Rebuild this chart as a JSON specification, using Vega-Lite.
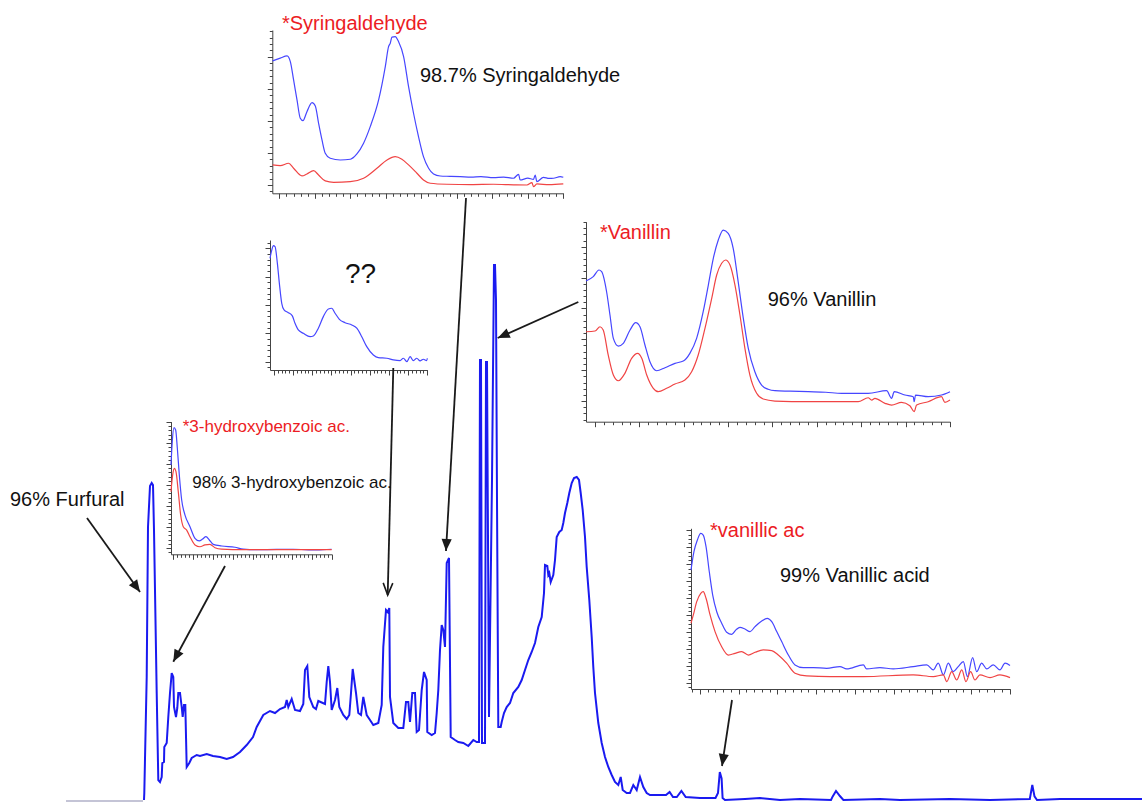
{
"$schema": "https://vega.github.io/schema/vega-lite/v6.json",
"width": 1142, "height": 803, "padding": 0, "autosize": {"type": "none"},
"background": "white",
"config": {"view": {"stroke": null}, "axis": {"labels": false, "title": null, "grid": false, "domainColor": "#444", "tickColor": "#444", "domainWidth": 1, "tickWidth": 1}, "text": {"font": "Liberation Sans"}},
"resolve": {"scale": {"x": "independent", "y": "independent"}, "axis": {"x": "independent", "y": "independent"}},
"datasets": {
"chrom": [
{"t":66,"s":-1,"seg":"pre-injection"},{"t":143,"s":-1,"seg":"pre-injection"},
{"t":144,"s":0,"seg":"chromatogram"},{"t":144.3,"s":7,"seg":"chromatogram"},{"t":146.7,"s":123,"seg":"chromatogram"},{"t":148,"s":273,"seg":"chromatogram"},{"t":150,"s":314,"seg":"chromatogram"},{"t":151.7,"s":317,"seg":"chromatogram"},{"t":153,"s":315,"seg":"chromatogram"},{"t":154,"s":270,"seg":"chromatogram"},{"t":156.7,"s":107,"seg":"chromatogram"},{"t":158.3,"s":20,"seg":"chromatogram"},{"t":160,"s":18,"seg":"chromatogram"},{"t":161.7,"s":23,"seg":"chromatogram"},{"t":162.3,"s":37,"seg":"chromatogram"},{"t":164,"s":38,"seg":"chromatogram"},{"t":164.3,"s":53,"seg":"chromatogram"},{"t":166.7,"s":57,"seg":"chromatogram"},{"t":168.3,"s":83,"seg":"chromatogram"},{"t":170,"s":107,"seg":"chromatogram"},{"t":171.7,"s":127,"seg":"chromatogram"},{"t":173.3,"s":123,"seg":"chromatogram"},{"t":174,"s":93,"seg":"chromatogram"},{"t":176,"s":83,"seg":"chromatogram"},{"t":177.3,"s":92,"seg":"chromatogram"},{"t":178.3,"s":107,"seg":"chromatogram"},{"t":180,"s":107,"seg":"chromatogram"},{"t":181.7,"s":93,"seg":"chromatogram"},{"t":182.7,"s":83,"seg":"chromatogram"},{"t":184,"s":95,"seg":"chromatogram"},{"t":185.3,"s":95,"seg":"chromatogram"},{"t":186.7,"s":33,"seg":"chromatogram"},{"t":189.3,"s":37,"seg":"chromatogram"},{"t":191.7,"s":42,"seg":"chromatogram"},{"t":196.7,"s":45,"seg":"chromatogram"},{"t":200,"s":44,"seg":"chromatogram"},{"t":206.7,"s":46,"seg":"chromatogram"},{"t":213,"s":44,"seg":"chromatogram"},{"t":220,"s":43,"seg":"chromatogram"},{"t":226.7,"s":41,"seg":"chromatogram"},{"t":233,"s":43,"seg":"chromatogram"},{"t":240,"s":48,"seg":"chromatogram"},{"t":246.7,"s":55,"seg":"chromatogram"},{"t":253,"s":63,"seg":"chromatogram"},{"t":256.7,"s":73,"seg":"chromatogram"},{"t":263.3,"s":85,"seg":"chromatogram"},{"t":270,"s":89,"seg":"chromatogram"},{"t":275,"s":87,"seg":"chromatogram"},{"t":280,"s":91,"seg":"chromatogram"},{"t":285,"s":93,"seg":"chromatogram"},{"t":286.7,"s":100,"seg":"chromatogram"},{"t":288.3,"s":93,"seg":"chromatogram"},{"t":291.7,"s":101,"seg":"chromatogram"},{"t":295,"s":90,"seg":"chromatogram"},{"t":300,"s":89,"seg":"chromatogram"},{"t":303.3,"s":96,"seg":"chromatogram"},{"t":305,"s":130,"seg":"chromatogram"},{"t":307.3,"s":134,"seg":"chromatogram"},{"t":309.3,"s":103,"seg":"chromatogram"},{"t":313.3,"s":93,"seg":"chromatogram"},{"t":316,"s":91,"seg":"chromatogram"},{"t":318.3,"s":99,"seg":"chromatogram"},{"t":325,"s":96,"seg":"chromatogram"},{"t":326.7,"s":118,"seg":"chromatogram"},{"t":328.3,"s":134,"seg":"chromatogram"},{"t":330,"s":118,"seg":"chromatogram"},{"t":331.7,"s":90,"seg":"chromatogram"},{"t":335,"s":100,"seg":"chromatogram"},{"t":337.3,"s":112,"seg":"chromatogram"},{"t":339.3,"s":93,"seg":"chromatogram"},{"t":343.3,"s":85,"seg":"chromatogram"},{"t":346.7,"s":81,"seg":"chromatogram"},{"t":349.3,"s":85,"seg":"chromatogram"},{"t":351,"s":107,"seg":"chromatogram"},{"t":352.7,"s":131,"seg":"chromatogram"},{"t":356,"s":107,"seg":"chromatogram"},{"t":358.3,"s":87,"seg":"chromatogram"},{"t":361,"s":85,"seg":"chromatogram"},{"t":363.3,"s":103,"seg":"chromatogram"},{"t":366.7,"s":85,"seg":"chromatogram"},{"t":370,"s":80,"seg":"chromatogram"},{"t":373.3,"s":75,"seg":"chromatogram"},{"t":378.3,"s":77,"seg":"chromatogram"},{"t":381.7,"s":95,"seg":"chromatogram"},{"t":383.3,"s":153,"seg":"chromatogram"},{"t":386,"s":190,"seg":"chromatogram"},{"t":387.7,"s":188,"seg":"chromatogram"},{"t":389.3,"s":192,"seg":"chromatogram"},{"t":390,"s":103,"seg":"chromatogram"},{"t":393.3,"s":77,"seg":"chromatogram"},{"t":398.3,"s":72,"seg":"chromatogram"},{"t":403.3,"s":72,"seg":"chromatogram"},{"t":406,"s":98,"seg":"chromatogram"},{"t":408.3,"s":98,"seg":"chromatogram"},{"t":410,"s":78,"seg":"chromatogram"},{"t":412.3,"s":107,"seg":"chromatogram"},{"t":415,"s":107,"seg":"chromatogram"},{"t":416.7,"s":68,"seg":"chromatogram"},{"t":419,"s":70,"seg":"chromatogram"},{"t":421.7,"s":110,"seg":"chromatogram"},{"t":424,"s":128,"seg":"chromatogram"},{"t":426.7,"s":120,"seg":"chromatogram"},{"t":427.3,"s":68,"seg":"chromatogram"},{"t":431.7,"s":65,"seg":"chromatogram"},{"t":435,"s":67,"seg":"chromatogram"},{"t":436.7,"s":87,"seg":"chromatogram"},{"t":438.3,"s":110,"seg":"chromatogram"},{"t":440,"s":150,"seg":"chromatogram"},{"t":441.7,"s":175,"seg":"chromatogram"},{"t":443.3,"s":170,"seg":"chromatogram"},{"t":445,"s":153,"seg":"chromatogram"},{"t":446.7,"s":237,"seg":"chromatogram"},{"t":449,"s":242,"seg":"chromatogram"},{"t":450.7,"s":63,"seg":"chromatogram"},{"t":455,"s":60,"seg":"chromatogram"},{"t":458.3,"s":58,"seg":"chromatogram"},{"t":463.3,"s":57,"seg":"chromatogram"},{"t":468.3,"s":54,"seg":"chromatogram"},{"t":473.3,"s":60,"seg":"chromatogram"},{"t":476.7,"s":58,"seg":"chromatogram"},{"t":479,"s":58,"seg":"chromatogram"},{"t":480,"s":440,"seg":"chromatogram"},{"t":481,"s":440,"seg":"chromatogram"},{"t":482,"s":57,"seg":"chromatogram"},{"t":485,"s":57,"seg":"chromatogram"},{"t":486,"s":438,"seg":"chromatogram"},{"t":487,"s":438,"seg":"chromatogram"},{"t":489,"s":83,"seg":"chromatogram"},{"t":492,"s":320,"seg":"chromatogram"},{"t":494,"s":535,"seg":"chromatogram"},{"t":495,"s":535,"seg":"chromatogram"},{"t":496,"s":500,"seg":"chromatogram"},{"t":497,"s":300,"seg":"chromatogram"},{"t":498.3,"s":73,"seg":"chromatogram"},{"t":500.7,"s":73,"seg":"chromatogram"},{"t":501.7,"s":78,"seg":"chromatogram"},{"t":504,"s":87,"seg":"chromatogram"},{"t":506.7,"s":93,"seg":"chromatogram"},{"t":510,"s":97,"seg":"chromatogram"},{"t":513.3,"s":107,"seg":"chromatogram"},{"t":518.3,"s":113,"seg":"chromatogram"},{"t":521.7,"s":120,"seg":"chromatogram"},{"t":525,"s":130,"seg":"chromatogram"},{"t":528.3,"s":140,"seg":"chromatogram"},{"t":531.7,"s":148,"seg":"chromatogram"},{"t":535,"s":157,"seg":"chromatogram"},{"t":538.3,"s":173,"seg":"chromatogram"},{"t":541.7,"s":183,"seg":"chromatogram"},{"t":544,"s":207,"seg":"chromatogram"},{"t":545,"s":235,"seg":"chromatogram"},{"t":547.3,"s":234,"seg":"chromatogram"},{"t":548.3,"s":225,"seg":"chromatogram"},{"t":549.3,"s":227,"seg":"chromatogram"},{"t":550.7,"s":218,"seg":"chromatogram"},{"t":553.3,"s":225,"seg":"chromatogram"},{"t":555,"s":240,"seg":"chromatogram"},{"t":556.7,"s":263,"seg":"chromatogram"},{"t":559.3,"s":268,"seg":"chromatogram"},{"t":561.7,"s":270,"seg":"chromatogram"},{"t":563.3,"s":277,"seg":"chromatogram"},{"t":565,"s":287,"seg":"chromatogram"},{"t":567.3,"s":297,"seg":"chromatogram"},{"t":569.3,"s":307,"seg":"chromatogram"},{"t":571.7,"s":317,"seg":"chromatogram"},{"t":574,"s":322,"seg":"chromatogram"},{"t":576.7,"s":323,"seg":"chromatogram"},{"t":579,"s":320,"seg":"chromatogram"},{"t":580.7,"s":307,"seg":"chromatogram"},{"t":582.7,"s":290,"seg":"chromatogram"},{"t":585,"s":263,"seg":"chromatogram"},{"t":586.7,"s":233,"seg":"chromatogram"},{"t":589.3,"s":200,"seg":"chromatogram"},{"t":591.7,"s":163,"seg":"chromatogram"},{"t":593.3,"s":133,"seg":"chromatogram"},{"t":595,"s":107,"seg":"chromatogram"},{"t":598.3,"s":77,"seg":"chromatogram"},{"t":601.7,"s":57,"seg":"chromatogram"},{"t":605,"s":43,"seg":"chromatogram"},{"t":608.3,"s":33,"seg":"chromatogram"},{"t":611.7,"s":25,"seg":"chromatogram"},{"t":615,"s":18,"seg":"chromatogram"},{"t":618.3,"s":15,"seg":"chromatogram"},{"t":620.7,"s":23,"seg":"chromatogram"},{"t":622.7,"s":10,"seg":"chromatogram"},{"t":626.7,"s":7,"seg":"chromatogram"},{"t":630,"s":7,"seg":"chromatogram"},{"t":633.3,"s":15,"seg":"chromatogram"},{"t":636.7,"s":10,"seg":"chromatogram"},{"t":640,"s":23,"seg":"chromatogram"},{"t":643.3,"s":13,"seg":"chromatogram"},{"t":646.7,"s":7,"seg":"chromatogram"},{"t":650,"s":5,"seg":"chromatogram"},{"t":666,"s":5,"seg":"chromatogram"},{"t":669.6,"s":8,"seg":"chromatogram"},{"t":673,"s":3,"seg":"chromatogram"},{"t":676.8,"s":3,"seg":"chromatogram"},{"t":681.4,"s":9,"seg":"chromatogram"},{"t":685.7,"s":3,"seg":"chromatogram"},{"t":700,"s":2,"seg":"chromatogram"},{"t":709,"s":2,"seg":"chromatogram"},{"t":715.5,"s":2,"seg":"chromatogram"},{"t":718,"s":7,"seg":"chromatogram"},{"t":719.8,"s":28,"seg":"chromatogram"},{"t":721.6,"s":21.5,"seg":"chromatogram"},{"t":722.6,"s":2,"seg":"chromatogram"},{"t":725,"s":0,"seg":"chromatogram"},{"t":745,"s":1,"seg":"chromatogram"},{"t":760,"s":2,"seg":"chromatogram"},{"t":780,"s":0,"seg":"chromatogram"},{"t":800,"s":1,"seg":"chromatogram"},{"t":831,"s":0,"seg":"chromatogram"},{"t":832.7,"s":3.6,"seg":"chromatogram"},{"t":836,"s":9,"seg":"chromatogram"},{"t":839.9,"s":4,"seg":"chromatogram"},{"t":843.4,"s":0,"seg":"chromatogram"},{"t":880,"s":1,"seg":"chromatogram"},{"t":900,"s":0,"seg":"chromatogram"},{"t":950,"s":1,"seg":"chromatogram"},{"t":990,"s":0,"seg":"chromatogram"},{"t":1029.8,"s":1,"seg":"chromatogram"},{"t":1032.3,"s":15,"seg":"chromatogram"},{"t":1034.5,"s":3.6,"seg":"chromatogram"},{"t":1037,"s":0,"seg":"chromatogram"},{"t":1060,"s":1,"seg":"chromatogram"},{"t":1100,"s":1,"seg":"chromatogram"},{"t":1142,"s":1,"seg":"chromatogram"}
],
"arrows": [
{"target":"Furfural","t":87,"s":282,"t2":140,"s2":208,"head":"filled"},
{"target":"3-hydroxybenzoic acid","t":225,"s":234,"t2":173.3,"s2":138.3,"head":"filled"},
{"target":"unknown","t":393.3,"s":432,"t2":387.7,"s2":205,"head":"open"},
{"target":"Syringaldehyde","t":466,"s":602,"t2":446,"s2":249,"head":"filled"},
{"target":"Vanillin","t":578.3,"s":498,"t2":497.7,"s2":462,"head":"filled"},
{"target":"Vanillic acid","t":732,"s":100,"t2":722,"s2":34,"head":"filled"}
],
"syr": [
{"nm":195.2,"a":193.8,"tr":"sample"},{"nm":200.6,"a":198,"tr":"sample"},{"nm":205.4,"a":201.6,"tr":"sample"},{"nm":207.7,"a":192.7,"tr":"sample"},{"nm":210,"a":164,"tr":"sample"},{"nm":212.4,"a":132.8,"tr":"sample"},{"nm":214.7,"a":104.2,"tr":"sample"},{"nm":216.6,"a":100.5,"tr":"sample"},{"nm":219.4,"a":114.5,"tr":"sample"},{"nm":223,"a":128.6,"tr":"sample"},{"nm":225.3,"a":123.4,"tr":"sample"},{"nm":227.6,"a":96.4,"tr":"sample"},{"nm":230,"a":70.3,"tr":"sample"},{"nm":232.3,"a":49.5,"tr":"sample"},{"nm":235.8,"a":41.7,"tr":"sample"},{"nm":242.9,"a":39,"tr":"sample"},{"nm":250,"a":40.2,"tr":"sample"},{"nm":254.6,"a":48.4,"tr":"sample"},{"nm":259.3,"a":65.2,"tr":"sample"},{"nm":264,"a":91.1,"tr":"sample"},{"nm":269.9,"a":132.8,"tr":"sample"},{"nm":274.6,"a":184.8,"tr":"sample"},{"nm":276.9,"a":216,"tr":"sample"},{"nm":278.1,"a":221.4,"tr":"sample"},{"nm":279.3,"a":230.8,"tr":"sample"},{"nm":281.6,"a":231.7,"tr":"sample"},{"nm":283.9,"a":223.9,"tr":"sample"},{"nm":287.5,"a":200.5,"tr":"sample"},{"nm":291,"a":153.6,"tr":"sample"},{"nm":294.5,"a":112,"tr":"sample"},{"nm":298,"a":75.5,"tr":"sample"},{"nm":301.5,"a":44.2,"tr":"sample"},{"nm":305.1,"a":26.1,"tr":"sample"},{"nm":308.6,"a":17.2,"tr":"sample"},{"nm":313.3,"a":14,"tr":"sample"},{"nm":320,"a":13.5,"tr":"sample"},{"nm":327.4,"a":13,"tr":"sample"},{"nm":335,"a":12.2,"tr":"sample"},{"nm":342,"a":13.1,"tr":"sample"},{"nm":350.8,"a":11.4,"tr":"sample"},{"nm":358,"a":12.4,"tr":"sample"},{"nm":364.9,"a":10.5,"tr":"sample"},{"nm":368.5,"a":16.7,"tr":"sample"},{"nm":369.6,"a":7.8,"tr":"sample"},{"nm":375,"a":10.6,"tr":"sample"},{"nm":379,"a":8.9,"tr":"sample"},{"nm":380.2,"a":15.6,"tr":"sample"},{"nm":381.4,"a":5.2,"tr":"sample"},{"nm":386,"a":12,"tr":"sample"},{"nm":390,"a":10.2,"tr":"sample"},{"nm":393.1,"a":10.5,"tr":"sample"},{"nm":397.8,"a":13,"tr":"sample"},{"nm":400,"a":12,"tr":"sample"},
{"nm":195.2,"a":31.3,"tr":"library"},{"nm":200.6,"a":30.2,"tr":"library"},{"nm":206.5,"a":33.9,"tr":"library"},{"nm":210,"a":26.1,"tr":"library"},{"nm":215.9,"a":14.1,"tr":"library"},{"nm":219.4,"a":17.2,"tr":"library"},{"nm":224.1,"a":22.3,"tr":"library"},{"nm":227.6,"a":15.6,"tr":"library"},{"nm":232.3,"a":6.3,"tr":"library"},{"nm":238.2,"a":4.2,"tr":"library"},{"nm":249.9,"a":5.2,"tr":"library"},{"nm":259.3,"a":10.5,"tr":"library"},{"nm":268.7,"a":26.1,"tr":"library"},{"nm":275.8,"a":39,"tr":"library"},{"nm":281.6,"a":44.2,"tr":"library"},{"nm":286.3,"a":40.2,"tr":"library"},{"nm":291,"a":31.3,"tr":"library"},{"nm":296.9,"a":18.3,"tr":"library"},{"nm":301.5,"a":7.8,"tr":"library"},{"nm":306.3,"a":2.7,"tr":"library"},{"nm":318,"a":1.1,"tr":"library"},{"nm":335,"a":0.6,"tr":"library"},{"nm":350.8,"a":1.1,"tr":"library"},{"nm":365,"a":0.3,"tr":"library"},{"nm":374.4,"a":0,"tr":"library"},{"nm":377.9,"a":3.6,"tr":"library"},{"nm":379,"a":-2.7,"tr":"library"},{"nm":381.4,"a":1.6,"tr":"library"},{"nm":390,"a":0.5,"tr":"library"},{"nm":400,"a":1.6,"tr":"library"}
],
"unk": [
{"nm":195,"a":73,"tr":"sample"},{"nm":197.3,"a":78.8,"tr":"sample"},{"nm":199.3,"a":81.9,"tr":"sample"},{"nm":201.6,"a":81.2,"tr":"sample"},{"nm":204.6,"a":69.4,"tr":"sample"},{"nm":207.2,"a":55.3,"tr":"sample"},{"nm":210.3,"a":41.2,"tr":"sample"},{"nm":213.3,"a":36.5,"tr":"sample"},{"nm":218.9,"a":34.6,"tr":"sample"},{"nm":224.1,"a":32.3,"tr":"sample"},{"nm":227.6,"a":27.1,"tr":"sample"},{"nm":231.9,"a":22.4,"tr":"sample"},{"nm":238.5,"a":20,"tr":"sample"},{"nm":247.2,"a":17.6,"tr":"sample"},{"nm":251.5,"a":18.1,"tr":"sample"},{"nm":258,"a":23.6,"tr":"sample"},{"nm":264.5,"a":31.8,"tr":"sample"},{"nm":271.1,"a":37.2,"tr":"sample"},{"nm":275.5,"a":37.7,"tr":"sample"},{"nm":279.8,"a":34.2,"tr":"sample"},{"nm":285.4,"a":29.9,"tr":"sample"},{"nm":292.8,"a":27.5,"tr":"sample"},{"nm":301.6,"a":25.9,"tr":"sample"},{"nm":308.1,"a":23.6,"tr":"sample"},{"nm":314.6,"a":17.6,"tr":"sample"},{"nm":321.1,"a":10.6,"tr":"sample"},{"nm":329.7,"a":4.7,"tr":"sample"},{"nm":336.2,"a":2.8,"tr":"sample"},{"nm":347.2,"a":2.4,"tr":"sample"},{"nm":355.8,"a":1.2,"tr":"sample"},{"nm":364.5,"a":0.7,"tr":"sample"},{"nm":368.8,"a":2.4,"tr":"sample"},{"nm":373.3,"a":0,"tr":"sample"},{"nm":377.6,"a":3.5,"tr":"sample"},{"nm":381.9,"a":0.7,"tr":"sample"},{"nm":386.3,"a":2.4,"tr":"sample"},{"nm":390.6,"a":0.5,"tr":"sample"},{"nm":394.9,"a":1.7,"tr":"sample"},{"nm":399.3,"a":0.7,"tr":"sample"},{"nm":400,"a":2.4,"tr":"sample"}
],
"van": [
{"nm":195,"a":194.5,"tr":"sample"},{"nm":199.1,"a":201.5,"tr":"sample"},{"nm":202.3,"a":212.3,"tr":"sample"},{"nm":203.8,"a":209.6,"tr":"sample"},{"nm":206.6,"a":177.1,"tr":"sample"},{"nm":208.5,"a":139.4,"tr":"sample"},{"nm":210.4,"a":101.6,"tr":"sample"},{"nm":213.2,"a":89.1,"tr":"sample"},{"nm":216,"a":93.5,"tr":"sample"},{"nm":219.8,"a":115.1,"tr":"sample"},{"nm":223,"a":126.9,"tr":"sample"},{"nm":225.4,"a":120.4,"tr":"sample"},{"nm":228.2,"a":90.8,"tr":"sample"},{"nm":231,"a":63.7,"tr":"sample"},{"nm":234.8,"a":49.1,"tr":"sample"},{"nm":239.5,"a":54,"tr":"sample"},{"nm":245.1,"a":61.1,"tr":"sample"},{"nm":249.8,"a":64.8,"tr":"sample"},{"nm":253.5,"a":77.3,"tr":"sample"},{"nm":257.3,"a":101.6,"tr":"sample"},{"nm":261,"a":144.7,"tr":"sample"},{"nm":263.9,"a":188,"tr":"sample"},{"nm":266.7,"a":231.3,"tr":"sample"},{"nm":269.5,"a":260.9,"tr":"sample"},{"nm":272.3,"a":277.1,"tr":"sample"},{"nm":275.1,"a":271.8,"tr":"sample"},{"nm":277.9,"a":247.5,"tr":"sample"},{"nm":280.7,"a":193.4,"tr":"sample"},{"nm":283.6,"a":134,"tr":"sample"},{"nm":286.4,"a":85.4,"tr":"sample"},{"nm":290.1,"a":47.5,"tr":"sample"},{"nm":293.9,"a":25.9,"tr":"sample"},{"nm":297.6,"a":19,"tr":"sample"},{"nm":301.4,"a":16.7,"tr":"sample"},{"nm":310,"a":16,"tr":"sample"},{"nm":320.2,"a":15.1,"tr":"sample"},{"nm":330,"a":14.2,"tr":"sample"},{"nm":339,"a":12.5,"tr":"sample"},{"nm":353.9,"a":12.5,"tr":"sample"},{"nm":364.3,"a":16.7,"tr":"sample"},{"nm":367.1,"a":4.4,"tr":"sample"},{"nm":368.6,"a":15.1,"tr":"sample"},{"nm":374.6,"a":9.7,"tr":"sample"},{"nm":379.3,"a":7,"tr":"sample"},{"nm":379.8,"a":-1.1,"tr":"sample"},{"nm":380.6,"a":9.7,"tr":"sample"},{"nm":387.7,"a":7,"tr":"sample"},{"nm":395.2,"a":9.7,"tr":"sample"},{"nm":400,"a":15.1,"tr":"sample"},
{"nm":195,"a":112.3,"tr":"library"},{"nm":200.1,"a":113.5,"tr":"library"},{"nm":202.9,"a":120.4,"tr":"library"},{"nm":204.7,"a":115.1,"tr":"library"},{"nm":207.5,"a":74.6,"tr":"library"},{"nm":210.4,"a":42.1,"tr":"library"},{"nm":213.2,"a":32.9,"tr":"library"},{"nm":216.9,"a":44.9,"tr":"library"},{"nm":220.7,"a":69.2,"tr":"library"},{"nm":224.1,"a":77.3,"tr":"library"},{"nm":226.4,"a":69.2,"tr":"library"},{"nm":229.2,"a":42.1,"tr":"library"},{"nm":232.9,"a":20.6,"tr":"library"},{"nm":235.7,"a":15.1,"tr":"library"},{"nm":240.4,"a":20.6,"tr":"library"},{"nm":245.1,"a":27.6,"tr":"library"},{"nm":250.7,"a":34,"tr":"library"},{"nm":254.5,"a":47.5,"tr":"library"},{"nm":258.2,"a":74.6,"tr":"library"},{"nm":262,"a":117.8,"tr":"library"},{"nm":265.8,"a":166.5,"tr":"library"},{"nm":268.6,"a":204.2,"tr":"library"},{"nm":271.4,"a":223.2,"tr":"library"},{"nm":273.6,"a":228.5,"tr":"library"},{"nm":276.1,"a":220.4,"tr":"library"},{"nm":278.9,"a":188,"tr":"library"},{"nm":281.7,"a":139.4,"tr":"library"},{"nm":284.5,"a":85.4,"tr":"library"},{"nm":287.3,"a":42.1,"tr":"library"},{"nm":291.1,"a":12.5,"tr":"library"},{"nm":294.8,"a":3.2,"tr":"library"},{"nm":301.4,"a":0,"tr":"library"},{"nm":320.2,"a":-1.1,"tr":"library"},{"nm":348.3,"a":-1.1,"tr":"library"},{"nm":353.9,"a":5.3,"tr":"library"},{"nm":355.9,"a":1.6,"tr":"library"},{"nm":357.7,"a":4.4,"tr":"library"},{"nm":363.4,"a":-3.7,"tr":"library"},{"nm":367.1,"a":-6.5,"tr":"library"},{"nm":372.7,"a":-2.1,"tr":"library"},{"nm":377.4,"a":-7.6,"tr":"library"},{"nm":379.8,"a":-17.3,"tr":"library"},{"nm":381.2,"a":-6.5,"tr":"library"},{"nm":387.7,"a":-1.1,"tr":"library"},{"nm":395.2,"a":7,"tr":"library"},{"nm":397.1,"a":-2.1,"tr":"library"},{"nm":400,"a":1.6,"tr":"library"}
],
"hba": [
{"nm":197,"a":79,"tr":"sample"},{"nm":198.6,"a":101.2,"tr":"sample"},{"nm":200.8,"a":114.6,"tr":"sample"},{"nm":202.9,"a":112.4,"tr":"sample"},{"nm":205,"a":95,"tr":"sample"},{"nm":207.5,"a":69.5,"tr":"sample"},{"nm":210.5,"a":45.7,"tr":"sample"},{"nm":214.7,"a":31.4,"tr":"sample"},{"nm":221,"a":20.3,"tr":"sample"},{"nm":227.3,"a":9.2,"tr":"sample"},{"nm":232.7,"a":6.7,"tr":"sample"},{"nm":237,"a":8.6,"tr":"sample"},{"nm":241.2,"a":10.8,"tr":"sample"},{"nm":245.4,"a":7.6,"tr":"sample"},{"nm":250.4,"a":3.5,"tr":"sample"},{"nm":261,"a":1.9,"tr":"sample"},{"nm":277.8,"a":0.7,"tr":"sample"},{"nm":288.3,"a":-1,"tr":"sample"},{"nm":309.4,"a":-1.6,"tr":"sample"},{"nm":351.4,"a":-1.2,"tr":"sample"},{"nm":381,"a":-1.9,"tr":"sample"},{"nm":399.9,"a":-1.2,"tr":"sample"},
{"nm":197,"a":53.6,"tr":"library"},{"nm":199.1,"a":69.5,"tr":"library"},{"nm":201.2,"a":75.9,"tr":"library"},{"nm":203.3,"a":72.7,"tr":"library"},{"nm":206.2,"a":53.6,"tr":"library"},{"nm":209.2,"a":31.4,"tr":"library"},{"nm":212.5,"a":20.3,"tr":"library"},{"nm":216.8,"a":17.1,"tr":"library"},{"nm":221,"a":10.8,"tr":"library"},{"nm":227.3,"a":2.9,"tr":"library"},{"nm":233.6,"a":1.2,"tr":"library"},{"nm":239.9,"a":2.9,"tr":"library"},{"nm":246.2,"a":3.5,"tr":"library"},{"nm":252.6,"a":0.3,"tr":"library"},{"nm":261,"a":-1,"tr":"library"},{"nm":288.3,"a":-1.6,"tr":"library"},{"nm":399.9,"a":-1.6,"tr":"library"}
],
"vac": [
{"nm":194.2,"a":66.6,"tr":"sample"},{"nm":196.1,"a":77.4,"tr":"sample"},{"nm":198.3,"a":84.3,"tr":"sample"},{"nm":200.5,"a":88.2,"tr":"sample"},{"nm":202.1,"a":87.2,"tr":"sample"},{"nm":203.9,"a":80.4,"tr":"sample"},{"nm":206,"a":65.6,"tr":"sample"},{"nm":208.2,"a":51.9,"tr":"sample"},{"nm":210.8,"a":42.1,"tr":"sample"},{"nm":214,"a":35.3,"tr":"sample"},{"nm":217.2,"a":30,"tr":"sample"},{"nm":220.5,"a":28.8,"tr":"sample"},{"nm":223.2,"a":31.4,"tr":"sample"},{"nm":225.8,"a":32.9,"tr":"sample"},{"nm":229,"a":31.9,"tr":"sample"},{"nm":232.3,"a":30.4,"tr":"sample"},{"nm":235.5,"a":33.3,"tr":"sample"},{"nm":239.8,"a":36.6,"tr":"sample"},{"nm":243.4,"a":38.2,"tr":"sample"},{"nm":246.3,"a":36.2,"tr":"sample"},{"nm":249.5,"a":30.4,"tr":"sample"},{"nm":252.7,"a":24.5,"tr":"sample"},{"nm":257,"a":16.6,"tr":"sample"},{"nm":261.3,"a":10.8,"tr":"sample"},{"nm":266.6,"a":9.2,"tr":"sample"},{"nm":273.1,"a":9.2,"tr":"sample"},{"nm":281.7,"a":8.8,"tr":"sample"},{"nm":290.3,"a":9.8,"tr":"sample"},{"nm":294.6,"a":8.4,"tr":"sample"},{"nm":305.4,"a":10.8,"tr":"sample"},{"nm":307.5,"a":8.4,"tr":"sample"},{"nm":316.1,"a":9.2,"tr":"sample"},{"nm":324.7,"a":8.4,"tr":"sample"},{"nm":337.6,"a":9.8,"tr":"sample"},{"nm":346.3,"a":10.8,"tr":"sample"},{"nm":350.5,"a":7.8,"tr":"sample"},{"nm":353.7,"a":11.8,"tr":"sample"},{"nm":357,"a":4.9,"tr":"sample"},{"nm":360.2,"a":11.8,"tr":"sample"},{"nm":363.4,"a":6.8,"tr":"sample"},{"nm":366.6,"a":9.8,"tr":"sample"},{"nm":369.9,"a":12.7,"tr":"sample"},{"nm":372.5,"a":3.9,"tr":"sample"},{"nm":375.9,"a":15.1,"tr":"sample"},{"nm":378.5,"a":6.8,"tr":"sample"},{"nm":381.7,"a":11.8,"tr":"sample"},{"nm":385,"a":8.4,"tr":"sample"},{"nm":389.2,"a":10.8,"tr":"sample"},{"nm":393.5,"a":7.8,"tr":"sample"},{"nm":396.8,"a":11.8,"tr":"sample"},{"nm":400,"a":10.4,"tr":"sample"},
{"nm":194.2,"a":35.3,"tr":"library"},{"nm":195.7,"a":40.2,"tr":"library"},{"nm":197.9,"a":48,"tr":"library"},{"nm":200.5,"a":52.9,"tr":"library"},{"nm":202.1,"a":53.9,"tr":"library"},{"nm":203.9,"a":50,"tr":"library"},{"nm":206.5,"a":40.2,"tr":"library"},{"nm":209.7,"a":30.4,"tr":"library"},{"nm":214,"a":21.5,"tr":"library"},{"nm":218.3,"a":16.6,"tr":"library"},{"nm":222.6,"a":17.6,"tr":"library"},{"nm":226.9,"a":18.6,"tr":"library"},{"nm":231.2,"a":16.6,"tr":"library"},{"nm":235.5,"a":18.2,"tr":"library"},{"nm":240.8,"a":19.6,"tr":"library"},{"nm":246.3,"a":19.2,"tr":"library"},{"nm":250.5,"a":16.6,"tr":"library"},{"nm":255.9,"a":11.8,"tr":"library"},{"nm":261.3,"a":5.9,"tr":"library"},{"nm":268.8,"a":4.3,"tr":"library"},{"nm":283.9,"a":3.9,"tr":"library"},{"nm":305.4,"a":3.9,"tr":"library"},{"nm":337.6,"a":4.9,"tr":"library"},{"nm":350.5,"a":3.9,"tr":"library"},{"nm":357,"a":4.9,"tr":"library"},{"nm":359.2,"a":0.9,"tr":"library"},{"nm":362.4,"a":6.8,"tr":"library"},{"nm":365.6,"a":1.9,"tr":"library"},{"nm":368.9,"a":7.8,"tr":"library"},{"nm":371.6,"a":0.9,"tr":"library"},{"nm":374.6,"a":6.8,"tr":"library"},{"nm":377.4,"a":1.9,"tr":"library"},{"nm":380.6,"a":4.9,"tr":"library"},{"nm":387.1,"a":3.3,"tr":"library"},{"nm":393.5,"a":4.9,"tr":"library"},{"nm":400,"a":3.3,"tr":"library"}
]
},
"layer": [
{"data": {"name": "chrom"}, "mark": {"type": "line", "strokeWidth": 2},
 "encoding": {"x": {"field": "t", "type": "quantitative", "scale": {"domain": [0, 1142], "nice": false, "zero": false}, "axis": null},
  "y": {"field": "s", "type": "quantitative", "scale": {"domain": [-3, 800], "nice": false, "zero": false}, "axis": null},
  "color": {"field": "seg", "type": "nominal", "scale": {"domain": ["chromatogram", "pre-injection", "sample", "library"], "range": ["#1a1af0", "#c4c4d6", "#4646ff", "#f04444"]}, "legend": null}}},
{"data": {"name": "arrows"}, "mark": {"type": "rule", "strokeWidth": 1.8, "color": "#1a1a1a"},
 "encoding": {"x": {"field": "t", "type": "quantitative", "scale": {"domain": [0, 1142], "nice": false, "zero": false}, "axis": null},
  "y": {"field": "s", "type": "quantitative", "scale": {"domain": [-3, 800], "nice": false, "zero": false}, "axis": null},
  "x2": {"field": "t2"}, "y2": {"field": "s2"}}},
{"data": {"name": "arrows"}, "transform": [{"filter": "datum.head == 'filled'"}, {"calculate": "atan2(datum.t2 - datum.t, datum.s2 - datum.s) * 180 / PI", "as": "ang"}],
 "mark": {"type": "point", "shape": "M0,0L-0.85,2L0.85,2Z", "filled": true, "color": "#1a1a1a", "size": 144, "opacity": 1},
 "encoding": {"x": {"field": "t2", "type": "quantitative", "scale": {"domain": [0, 1142], "nice": false, "zero": false}, "axis": null},
  "y": {"field": "s2", "type": "quantitative", "scale": {"domain": [-3, 800], "nice": false, "zero": false}, "axis": null},
  "angle": {"field": "ang", "type": "quantitative", "scale": null}}},
{"data": {"name": "arrows"}, "transform": [{"filter": "datum.head == 'open'"}, {"calculate": "atan2(datum.t2 - datum.t, datum.s2 - datum.s) * 180 / PI", "as": "ang"}],
 "mark": {"type": "point", "shape": "M-0.8,2L0,0L0.8,2", "filled": false, "color": "#1a1a1a", "strokeWidth": 1.6, "size": 144, "opacity": 1},
 "encoding": {"x": {"field": "t2", "type": "quantitative", "scale": {"domain": [0, 1142], "nice": false, "zero": false}, "axis": null},
  "y": {"field": "s2", "type": "quantitative", "scale": {"domain": [-3, 800], "nice": false, "zero": false}, "axis": null},
  "angle": {"field": "ang", "type": "quantitative", "scale": null}}},

{"data": {"name": "syr"}, "mark": {"type": "line", "strokeWidth": 1.2, "interpolate": "monotone"},
 "encoding": {"x": {"field": "nm", "type": "quantitative", "scale": {"domain": [195, 400], "range": [272.3, 563.3], "nice": false, "zero": false}, "axis": {"orient": "bottom", "offset": -609.7, "values": [200,225,250,275,300,325,350,375,400], "tickSize": 5}},
  "y": {"field": "a", "type": "quantitative", "scale": {"domain": [-13, 242], "range": [193.3, 30], "nice": false, "zero": false}, "axis": {"orient": "left", "offset": -272.3, "values": [0,50,100,150,200], "tickSize": 5}},
  "color": {"field": "tr", "type": "nominal", "scale": {"domain": ["chromatogram", "pre-injection", "sample", "library"], "range": ["#1a1af0", "#c4c4d6", "#4646ff", "#f04444"]}, "legend": null}}},
{"data": {"name": "syr"}, "mark": {"type": "line", "opacity": 0},
 "encoding": {"x": {"field": "nm", "type": "quantitative", "scale": {"domain": [195, 400], "range": [272.3, 563.3], "nice": false, "zero": false}, "axis": {"orient": "bottom", "offset": -609.7, "domain": false, "tickSize": 3, "values": [200,205,210,215,220,225,230,235,240,245,250,255,260,265,270,275,280,285,290,295,300,305,310,315,320,325,330,335,340,345,350,355,360,365,370,375,380,385,390,395,400]}},
  "y": {"field": "a", "type": "quantitative", "scale": {"domain": [-13, 242], "range": [193.3, 30], "nice": false, "zero": false}, "axis": {"orient": "left", "offset": -272.3, "domain": false, "tickSize": 3, "values": [-10,0,10,20,30,40,50,60,70,80,90,100,110,120,130,140,150,160,170,180,190,200,210,220,230,240]}}}},

{"data": {"name": "unk"}, "mark": {"type": "line", "strokeWidth": 1.2, "interpolate": "monotone"},
 "encoding": {"x": {"field": "nm", "type": "quantitative", "scale": {"domain": [195, 400], "range": [270, 427.3], "nice": false, "zero": false}, "axis": {"orient": "bottom", "offset": -433, "values": [200,225,250,275,300,325,350,375,400], "tickSize": 5}},
  "y": {"field": "a", "type": "quantitative", "scale": {"domain": [-5.9, 85.9], "range": [370, 240], "nice": false, "zero": false}, "axis": {"orient": "left", "offset": -270, "values": [0,20,40,60,80], "tickSize": 5}},
  "color": {"field": "tr", "type": "nominal", "scale": {"domain": ["chromatogram", "pre-injection", "sample", "library"], "range": ["#1a1af0", "#c4c4d6", "#4646ff", "#f04444"]}, "legend": null}}},
{"data": {"name": "unk"}, "mark": {"type": "line", "opacity": 0},
 "encoding": {"x": {"field": "nm", "type": "quantitative", "scale": {"domain": [195, 400], "range": [270, 427.3], "nice": false, "zero": false}, "axis": {"orient": "bottom", "offset": -433, "domain": false, "tickSize": 3, "values": [200,205,210,215,220,225,230,235,240,245,250,255,260,265,270,275,280,285,290,295,300,305,310,315,320,325,330,335,340,345,350,355,360,365,370,375,380,385,390,395,400]}},
  "y": {"field": "a", "type": "quantitative", "scale": {"domain": [-5.9, 85.9], "range": [370, 240], "nice": false, "zero": false}, "axis": {"orient": "left", "offset": -270, "domain": false, "tickSize": 3, "values": [-4,0,4,8,12,16,20,24,28,32,36,40,44,48,52,56,60,64,68,72,76,80,84]}}}},

{"data": {"name": "van"}, "mark": {"type": "line", "strokeWidth": 1.2, "interpolate": "monotone"},
 "encoding": {"x": {"field": "nm", "type": "quantitative", "scale": {"domain": [195, 400], "range": [586, 950], "nice": false, "zero": false}, "axis": {"orient": "bottom", "offset": -381.3, "values": [200,225,250,275,300,325,350,375,400], "tickSize": 5}},
  "y": {"field": "a", "type": "quantitative", "scale": {"domain": [-33.5, 290.6], "range": [421.7, 221.7], "nice": false, "zero": false}, "axis": {"orient": "left", "offset": -586, "values": [0,50,100,150,200,250], "tickSize": 5}},
  "color": {"field": "tr", "type": "nominal", "scale": {"domain": ["chromatogram", "pre-injection", "sample", "library"], "range": ["#1a1af0", "#c4c4d6", "#4646ff", "#f04444"]}, "legend": null}}},
{"data": {"name": "van"}, "mark": {"type": "line", "opacity": 0},
 "encoding": {"x": {"field": "nm", "type": "quantitative", "scale": {"domain": [195, 400], "range": [586, 950], "nice": false, "zero": false}, "axis": {"orient": "bottom", "offset": -381.3, "domain": false, "tickSize": 3, "values": [200,205,210,215,220,225,230,235,240,245,250,255,260,265,270,275,280,285,290,295,300,305,310,315,320,325,330,335,340,345,350,355,360,365,370,375,380,385,390,395,400]}},
  "y": {"field": "a", "type": "quantitative", "scale": {"domain": [-33.5, 290.6], "range": [421.7, 221.7], "nice": false, "zero": false}, "axis": {"orient": "left", "offset": -586, "domain": false, "tickSize": 3, "values": [-30,-20,-10,0,10,20,30,40,50,60,70,80,90,100,110,120,130,140,150,160,170,180,190,200,210,220,230,240,250,260,270,280,290]}}}},

{"data": {"name": "hba"}, "mark": {"type": "line", "strokeWidth": 1.2, "interpolate": "monotone"},
 "encoding": {"x": {"field": "nm", "type": "quantitative", "scale": {"domain": [197, 400], "range": [171, 331.7], "nice": false, "zero": false}, "axis": {"orient": "bottom", "offset": -248.7, "values": [200,225,250,275,300,325,350,375,400], "tickSize": 5}},
  "y": {"field": "a", "type": "quantitative", "scale": {"domain": [-6, 120.3], "range": [554.3, 421.7], "nice": false, "zero": false}, "axis": {"orient": "left", "offset": -171, "values": [0,20,40,60,80,100,120], "tickSize": 5}},
  "color": {"field": "tr", "type": "nominal", "scale": {"domain": ["chromatogram", "pre-injection", "sample", "library"], "range": ["#1a1af0", "#c4c4d6", "#4646ff", "#f04444"]}, "legend": null}}},
{"data": {"name": "hba"}, "mark": {"type": "line", "opacity": 0},
 "encoding": {"x": {"field": "nm", "type": "quantitative", "scale": {"domain": [197, 400], "range": [171, 331.7], "nice": false, "zero": false}, "axis": {"orient": "bottom", "offset": -248.7, "domain": false, "tickSize": 3, "values": [200,205,210,215,220,225,230,235,240,245,250,255,260,265,270,275,280,285,290,295,300,305,310,315,320,325,330,335,340,345,350,355,360,365,370,375,380,385,390,395,400]}},
  "y": {"field": "a", "type": "quantitative", "scale": {"domain": [-6, 120.3], "range": [554.3, 421.7], "nice": false, "zero": false}, "axis": {"orient": "left", "offset": -171, "domain": false, "tickSize": 3, "values": [-4,0,4,8,12,16,20,24,28,32,36,40,44,48,52,56,60,64,68,72,76,80,84,88,92,96,100,104,108,112,116,120]}}}},

{"data": {"name": "vac"}, "mark": {"type": "line", "strokeWidth": 1.2, "interpolate": "monotone"},
 "encoding": {"x": {"field": "nm", "type": "quantitative", "scale": {"domain": [194.2, 400], "range": [691, 1010], "nice": false, "zero": false}, "axis": {"orient": "bottom", "offset": -114, "values": [200,225,250,275,300,325,350,375,400], "tickSize": 5}},
  "y": {"field": "a", "type": "quantitative", "scale": {"domain": [-3.4, 91.2], "range": [689, 528.3], "nice": false, "zero": false}, "axis": {"orient": "left", "offset": -691, "values": [0,10,20,30,40,50,60,70,80,90], "tickSize": 5}},
  "color": {"field": "tr", "type": "nominal", "scale": {"domain": ["chromatogram", "pre-injection", "sample", "library"], "range": ["#1a1af0", "#c4c4d6", "#4646ff", "#f04444"]}, "legend": null}}},
{"data": {"name": "vac"}, "mark": {"type": "line", "opacity": 0},
 "encoding": {"x": {"field": "nm", "type": "quantitative", "scale": {"domain": [194.2, 400], "range": [691, 1010], "nice": false, "zero": false}, "axis": {"orient": "bottom", "offset": -114, "domain": false, "tickSize": 3, "values": [195,200,205,210,215,220,225,230,235,240,245,250,255,260,265,270,275,280,285,290,295,300,305,310,315,320,325,330,335,340,345,350,355,360,365,370,375,380,385,390,395,400]}},
  "y": {"field": "a", "type": "quantitative", "scale": {"domain": [-3.4, 91.2], "range": [689, 528.3], "nice": false, "zero": false}, "axis": {"orient": "left", "offset": -691, "domain": false, "tickSize": 3, "values": [-2.5,0,2.5,5,7.5,10,12.5,15,17.5,20,22.5,25,27.5,30,32.5,35,37.5,40,42.5,45,47.5,50,52.5,55,57.5,60,62.5,65,67.5,70,72.5,75,77.5,80,82.5,85,87.5,90]}}}},

{"data": {"values": [{"label": "*Syringaldehyde", "t": 282, "s": 770}, {"label": "*Vanillin", "t": 600, "s": 561}, {"label": "*vanillic ac", "t": 710, "s": 263.3}]},
 "mark": {"type": "text", "align": "left", "baseline": "alphabetic", "fontSize": 20, "color": "#ec1c24"},
 "encoding": {"x": {"field": "t", "type": "quantitative", "scale": {"domain": [0, 1142], "nice": false, "zero": false}, "axis": null},
  "y": {"field": "s", "type": "quantitative", "scale": {"domain": [-3, 800], "nice": false, "zero": false}, "axis": null},
  "text": {"field": "label"}}},
{"data": {"values": [{"label": "96% Furfural", "t": 10, "s": 294}, {"label": "98.7% Syringaldehyde", "t": 420, "s": 718.3}, {"label": "96% Vanillin", "t": 767.7, "s": 494.3}, {"label": "99% Vanillic acid", "t": 780, "s": 218.3}]},
 "mark": {"type": "text", "align": "left", "baseline": "alphabetic", "fontSize": 20, "color": "#111111"},
 "encoding": {"x": {"field": "t", "type": "quantitative", "scale": {"domain": [0, 1142], "nice": false, "zero": false}, "axis": null},
  "y": {"field": "s", "type": "quantitative", "scale": {"domain": [-3, 800], "nice": false, "zero": false}, "axis": null},
  "text": {"field": "label"}}},
{"data": {"values": [{"label": "*3-hydroxybenzoic ac.", "t": 182.7, "s": 367.7}]},
 "mark": {"type": "text", "align": "left", "baseline": "alphabetic", "fontSize": 17, "color": "#ec1c24"},
 "encoding": {"x": {"field": "t", "type": "quantitative", "scale": {"domain": [0, 1142], "nice": false, "zero": false}, "axis": null},
  "y": {"field": "s", "type": "quantitative", "scale": {"domain": [-3, 800], "nice": false, "zero": false}, "axis": null},
  "text": {"field": "label"}}},
{"data": {"values": [{"label": "98% 3-hydroxybenzoic ac.", "t": 192.3, "s": 312.3}]},
 "mark": {"type": "text", "align": "left", "baseline": "alphabetic", "fontSize": 17, "color": "#111111"},
 "encoding": {"x": {"field": "t", "type": "quantitative", "scale": {"domain": [0, 1142], "nice": false, "zero": false}, "axis": null},
  "y": {"field": "s", "type": "quantitative", "scale": {"domain": [-3, 800], "nice": false, "zero": false}, "axis": null},
  "text": {"field": "label"}}},
{"data": {"values": [{"label": "??", "t": 345, "s": 517.3}]},
 "mark": {"type": "text", "align": "left", "baseline": "alphabetic", "fontSize": 28, "color": "#111111"},
 "encoding": {"x": {"field": "t", "type": "quantitative", "scale": {"domain": [0, 1142], "nice": false, "zero": false}, "axis": null},
  "y": {"field": "s", "type": "quantitative", "scale": {"domain": [-3, 800], "nice": false, "zero": false}, "axis": null},
  "text": {"field": "label"}}}
]
}
